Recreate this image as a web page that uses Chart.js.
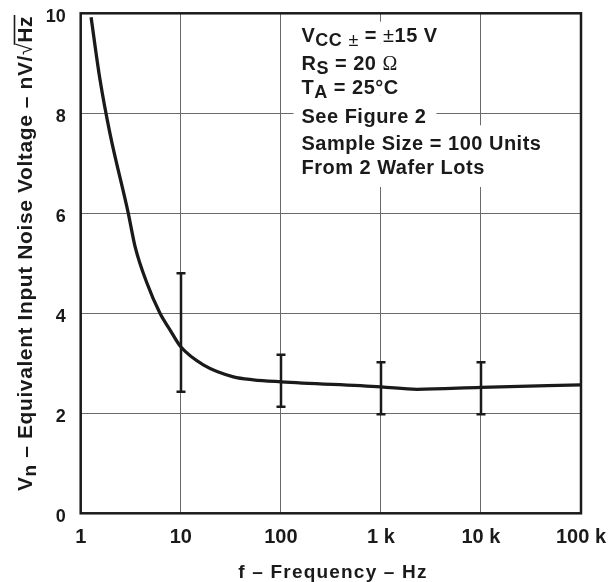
<!DOCTYPE html>
<html><head><meta charset="utf-8">
<script src="https://cdn.jsdelivr.net/npm/chart.js@4/dist/chart.umd.min.js"></script>
<style>html,body{margin:0;padding:0;background:#fff;}canvas{display:block;}</style>
</head><body>
<canvas id="c" width="613" height="582"></canvas>
<script>
// ---- data ----
const freqHz  = [1.27, 1.56, 1.96, 2.99, 3.5, 4.6, 6.2, 7.8, 10, 16.8, 33.6, 53, 100, 1000, 2290, 10000, 100000];
const noiseNV = [9.92, 8.67, 7.6, 6.0, 5.33, 4.6, 4.0, 3.67, 3.33, 2.97, 2.73, 2.67, 2.63, 2.53, 2.48, 2.52, 2.57];
const errFreq = [10, 100, 1000, 10000];
const errLow  = [2.43, 2.13, 1.98, 1.98];
const errHigh = [4.8, 3.17, 3.02, 3.02];
const xTickValues = [1, 10, 100, 1000, 10000, 100000];
const xTickLabels = ['1', '10', '100', '1 k', '10 k', '100 k'];
const yTickValues = [0, 2, 4, 6, 8, 10];
const xTitle = 'f \u2013 Frequency \u2013 Hz';
const yTitleParts = ['V', 'n', ' \u2013 Equivalent Input Noise Voltage \u2013 nV/', '\u221A', 'Hz'];
const noteLines = [
  [['V','b'],['CC','sub'],[' ','b'],['\u00B1','subr'],[' = ','b'],['\u00B1','r'],['15 V','b']],
  [['R','b'],['S','sub'],[' = 20 ','b'],['\u03A9','serif']],
  [['T','b'],['A','sub'],[' = 25\u00B0C','b']],
  [['See Figure 2','b']],
  [['Sample Size = 100 Units','b']],
  [['From 2 Wafer Lots','b']]
];

// ---- styling / layout ----
const FAM = '"Liberation Sans", Arial, Helvetica, sans-serif';
const INK = '#1a1a1a';
const noteX = 301.5;
const noteBaselines = [41.7, 70, 93.5, 123.3, 150, 174.3];

function runFont(s){
  switch(s){
    case 'sub': return 'bold 18px ' + FAM;
    case 'subr': return '18px ' + FAM;
    case 'r': return '20px ' + FAM;
    case 'serif': return '20px "Liberation Serif", "Times New Roman", serif';
    default: return 'bold 20px ' + FAM;
  }
}
function runDy(s){ return (s === 'sub') ? 4 : (s === 'subr' ? 4 : 0); }

function zeroPad(scale){ scale.paddingTop = 0; scale.paddingBottom = 0; scale.paddingLeft = 0; scale.paddingRight = 0; }

const notePlugin = {
  id: 'notes',
  beforeDatasetsDraw(chart){
    const ctx = chart.ctx;
    ctx.save();
    ctx.letterSpacing = '0.5px';
    const widths = noteLines.map(line => {
      let w = 0;
      line.forEach(([t,s]) => { ctx.font = runFont(s); w += ctx.measureText(t).width; });
      return w;
    });
    ctx.fillStyle = '#fff';
    noteLines.forEach((line, i) => {
      const top = i === 0 ? 21.7 : noteBaselines[i-1] + 2;
      const bot = i === noteLines.length - 1 ? 187 : noteBaselines[i] + 2;
      ctx.fillRect(noteX - 8, top, widths[i] + 18, bot - top);
    });
    ctx.fillStyle = INK;
    ctx.textBaseline = 'alphabetic';
    ctx.textAlign = 'left';
    noteLines.forEach((line, i) => {
      let x = noteX;
      line.forEach(([t,s]) => {
        ctx.font = runFont(s);
        ctx.fillText(t, x, noteBaselines[i] + runDy(s));
        x += ctx.measureText(t).width;
      });
    });
    ctx.restore();
  },
  afterDatasetsDraw(chart){
    const ctx = chart.ctx;
    const xs = chart.scales.x, ys = chart.scales.y;
    ctx.save();
    ctx.strokeStyle = INK;
    ctx.lineWidth = 2.5;
    ctx.lineCap = 'butt';
    errFreq.forEach((f, i) => {
      const px = Math.round(xs.getPixelForValue(f));
      const y1 = ys.getPixelForValue(errLow[i]);
      const y2 = ys.getPixelForValue(errHigh[i]);
      ctx.beginPath();
      ctx.moveTo(px, y1); ctx.lineTo(px, y2);
      ctx.moveTo(px - 4.5, y1); ctx.lineTo(px + 4.5, y1);
      ctx.moveTo(px - 4.5, y2); ctx.lineTo(px + 4.5, y2);
      ctx.stroke();
    });
    const a = chart.chartArea;
    ctx.lineWidth = 2.5;
    ctx.strokeRect(a.left, a.top, a.right - a.left, a.bottom - a.top);
    ctx.restore();
  },
  afterDraw(chart){
    const ctx = chart.ctx;
    ctx.save();
    ctx.fillStyle = INK;
    ctx.textBaseline = 'alphabetic';
    ctx.letterSpacing = '1.2px';
    ctx.font = 'bold 19px ' + FAM;
    ctx.textAlign = 'center';
    ctx.fillText(xTitle, 333, 578.3);
    ctx.textAlign = 'left';
    ctx.letterSpacing = '0.6px';
    ctx.translate(32, 491);
    ctx.rotate(-Math.PI / 2);
    let x = 0;
    const bold = 'bold 21px ' + FAM;
    ctx.font = bold; ctx.fillText(yTitleParts[0], x, 0); x += ctx.measureText(yTitleParts[0]).width;
    ctx.font = 'bold 19px ' + FAM; ctx.fillText(yTitleParts[1], x, 4); x += ctx.measureText(yTitleParts[1]).width;
    ctx.font = bold; ctx.fillText(yTitleParts[2], x, 0); x += ctx.measureText(yTitleParts[2]).width;
    ctx.font = '21px ' + FAM; ctx.fillText(yTitleParts[3], x, 0);
    const rw = ctx.measureText(yTitleParts[3]).width;
    const ox = x + rw - 2;
    x += rw;
    ctx.font = bold; ctx.fillText(yTitleParts[4], x, 0); x += ctx.measureText(yTitleParts[4]).width;
    ctx.strokeStyle = INK; ctx.lineWidth = 1.6;
    ctx.beginPath(); ctx.moveTo(ox, -17.5); ctx.lineTo(x + 1, -17.5); ctx.stroke();
    ctx.restore();
  }
};

const points = freqHz.map((f, i) => ({x: f, y: noiseNV[i]}));

new Chart(document.getElementById('c'), {
  type: 'line',
  data: { datasets: [{
    data: points,
    borderColor: INK,
    borderWidth: 3.3,
    pointRadius: 0,
    cubicInterpolationMode: 'monotone',
    fill: false
  }]},
  options: {
    responsive: false,
    animation: false,
    devicePixelRatio: 1,
    layout: { padding: { top: 13.3, right: 32, left: 0, bottom: 0 } },
    plugins: { legend: { display: false }, tooltip: { enabled: false }, title: { display: false } },
    scales: {
      x: {
        type: 'logarithmic',
        min: 1, max: 100000,
        afterBuildTicks(scale){ scale.ticks = xTickValues.map(v => ({value: v})); },
        afterFit(scale){ scale.height = 582 - 513.3; zeroPad(scale); },
        grid: { color: '#6a6a6a', lineWidth: 1, drawTicks: false },
        border: { display: false },
        ticks: {
          autoSkip: false, maxRotation: 0, padding: 12,
          color: INK,
          font: { family: FAM, size: 20, weight: 'bold' },
          callback(v){ const i = xTickValues.indexOf(v); return i >= 0 ? xTickLabels[i] : ''; }
        }
      },
      y: {
        min: 0, max: 10,
        afterBuildTicks(scale){ scale.ticks = yTickValues.map(v => ({value: v})); },
        afterFit(scale){ scale.width = 80.7; zeroPad(scale); },
        grid: { color: '#6a6a6a', lineWidth: 1, drawTicks: false },
        border: { display: false },
        ticks: {
          padding: 15, labelOffset: 4,
          color: INK,
          font: { family: FAM, size: 18, weight: 'bold' }
        }
      }
    }
  },
  plugins: [notePlugin]
});
</script>
</body></html>
